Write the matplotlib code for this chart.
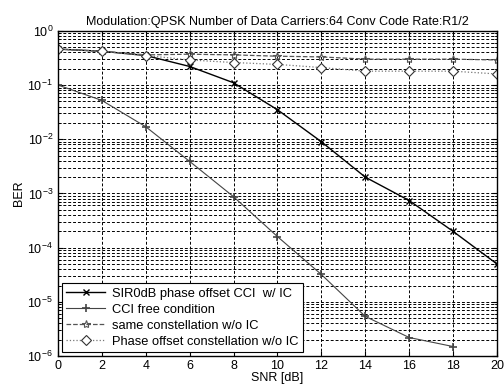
import matplotlib
matplotlib.use("Agg")
import matplotlib.pyplot as plt
from matplotlib.ticker import LogLocator, NullFormatter, FixedLocator, LogFormatterSciNotation

plt.rcParams['font.family'] = ['Liberation Sans', 'DejaVu Sans']

snr = [0, 2, 4, 6, 8, 10, 12, 14, 16, 18, 20]
snr_free = [0, 2, 4, 6, 8, 10, 12, 14, 16, 18]

ber_sir0 = [0.46, 0.42, 0.35, 0.22, 0.11, 0.035, 0.009, 0.002, 7.4e-4, 2.0e-4, 5.0e-5]
ber_free = [0.1, 0.052, 0.017, 0.0039, 8.7e-4, 1.6e-4, 3.2e-5, 5.4e-6, 2.2e-6, 1.5e-6]
ber_same = [0.46, 0.42, 0.36, 0.37, 0.36, 0.34, 0.33, 0.30, 0.30, 0.30, 0.29]
ber_phase = [0.46, 0.42, 0.35, 0.29, 0.26, 0.24, 0.21, 0.18, 0.18, 0.18, 0.16]

labels = ["SIR0dB phase offset CCI  w/ IC", "CCI free condition",
          "same constellation w/o IC", "Phase offset constellation w/o IC"]
title = "Modulation:QPSK Number of Data Carriers:64 Conv Code Rate:R1/2"
xticks = [0, 2, 4, 6, 8, 10, 12, 14, 16, 18, 20]
yticks = [1e-6, 1e-5, 1e-4, 1e-3, 1e-2, 1e-1, 1e0]

fig = plt.figure(figsize=(5.04, 3.9), dpi=100)
ax = fig.add_axes([0.115, 0.087, 0.871, 0.834])

ax.semilogy(snr, ber_sir0, color='black', lw=1.0, marker='x', ms=5, mew=1.0, label=labels[0])
ax.semilogy(snr_free, ber_free, color='#444444', lw=0.8, marker='+', ms=6, mew=1.2, label=labels[1])
ax.semilogy(snr, ber_same, color='#555555', lw=0.9, ls='--', marker='*', ms=6, mfc='none', mew=0.8, label=labels[2])
ax.semilogy(snr, ber_phase, color='#777777', lw=0.9, ls=':', marker='D', ms=5, mfc='white', mec='#333333', mew=0.8, label=labels[3])

ax.set_xlim(0, 20)
ax.set_ylim(1e-6, 1)
ax.xaxis.set_major_locator(FixedLocator(xticks))
ax.yaxis.set_major_locator(FixedLocator(yticks))
ax.yaxis.set_major_formatter(LogFormatterSciNotation())
minor = [m * d for d in yticks[:-1] for m in range(2, 10)]
ax.yaxis.set_minor_locator(FixedLocator(minor))
ax.yaxis.set_minor_formatter(NullFormatter())

ax.grid(True, which='major', color='black', ls=(0, (3, 2)), lw=0.7)
ax.grid(True, which='minor', axis='y', color='black', ls=(0, (3, 2)), lw=0.7)

ax.tick_params(which='both', direction='in', top=True, right=True, labelsize=9)
ax.tick_params(axis='x', pad=3)
for s in ax.spines.values():
    s.set_linewidth(1.0)

ax.set_title(title, fontsize=9, pad=4)
ax.set_xlabel("SNR [dB]", fontsize=9, labelpad=0)
ax.set_ylabel("BER", fontsize=9, labelpad=2)

leg = ax.legend(loc='lower left', fontsize=9.3, frameon=True, fancybox=False,
                edgecolor='black', framealpha=1, borderaxespad=0.3,
                handlelength=3.0, labelspacing=0.3, borderpad=0.35, handletextpad=0.5)
leg.get_frame().set_linewidth(0.8)

fig.savefig("out.png", dpi=100)
